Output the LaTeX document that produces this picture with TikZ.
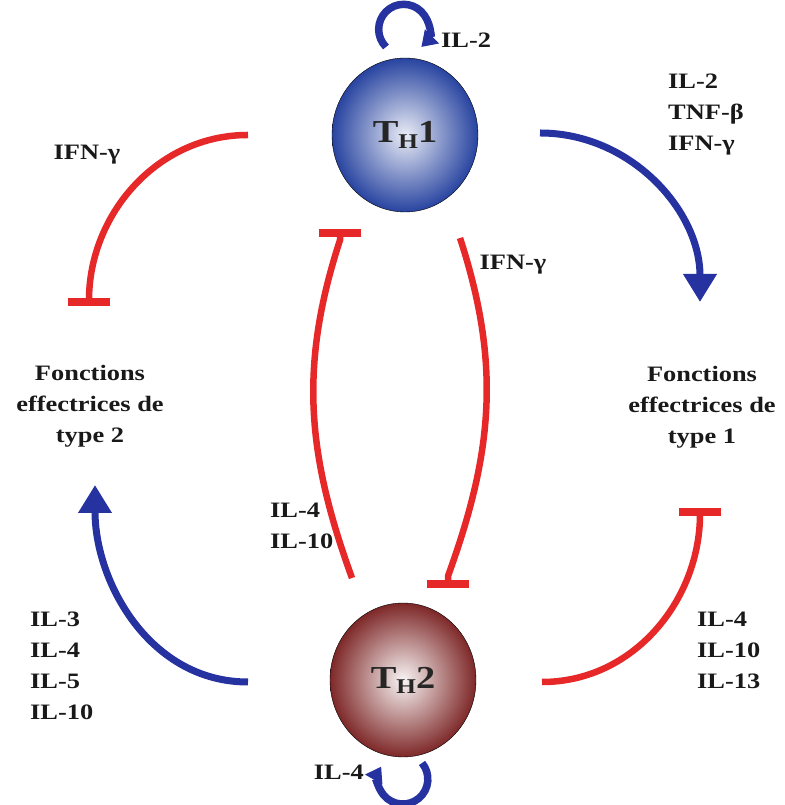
\documentclass[tikz,border=0pt]{standalone}
\usepackage{fontspec}
\setmainfont{Liberation Serif}[FakeStretch=1.2]
\usepackage{tikz}
\usetikzlibrary{
  arrows.meta,
  shapes.geometric
}
\definecolor{thBlue}{RGB}{38,50,160}
\definecolor{thRed}{RGB}{230,40,40}
\definecolor{cellBlue}{RGB}{40,68,160}
\definecolor{cellRed}{RGB}{126,40,40}
\tikzset{
  cell/.style={
    ellipse,
    draw=black,
    thin,
    minimum width=146pt,
    minimum height=154pt,
    inner sep=0pt,
    font=\fontsize{32}{36}\selectfont\bfseries,
    text=black!85
  },
  cellone/.style={cell, shade, inner color=cellBlue!10!white, outer color=cellBlue},
  celltwo/.style={cell, shade, inner color=cellRed!5!white, outer color=cellRed},
  actarrow/.style={
    -{Triangle[length=28pt, width=32pt]},
    line width=7pt,
    thBlue
  },
  looparrow/.style={
    -{Triangle[length=15pt, width=19pt]},
    line width=7.5pt,
    thBlue
  },
  inhibarrow/.style={
    -{Bar[width=42pt, line width=8pt]},
    line width=6.5pt,
    thRed
  },
  cytolabel/.style={font=\fontsize{22}{31}\selectfont\bfseries, align=left, inner sep=0pt, text=black!90},
  fonctlabel/.style={cytolabel, align=center}
}
\newcommand{\thsub}[1]{T\raisebox{-0.35ex}{\fontsize{21}{21}\selectfont H}#1}

\begin{document}
\begin{tikzpicture}[x=1pt, y=1pt]
  \useasboundingbox (0,0) rectangle (784,805);
  % cellules
  \node[cellone] (th1) at (405,670) {\thsub{1}};
  \node[celltwo] (th2) at (403,125) {\thsub{2}};
  % fonctions effectrices
  \node[fonctlabel] (ftwo) at (90,399) {Fonctions\\effectrices de\\type 2};
  \node[fonctlabel] (fone) at (702,398) {Fonctions\\effectrices de\\type 1};
  % cytokines
  \node[cytolabel, anchor=west] (ilA) at (441,765) {IL-2};
  \node[cytolabel, anchor=east] (ilB) at (364,33) {IL-4};
  \node[cytolabel] (ifnA) at (87,650) {IFN-γ};
  \node[cytolabel, anchor=west] (oneout) at (668,690) {IL-2\\TNF-β\\IFN-γ};
  \node[cytolabel] (ifnB) at (513,540) {IFN-γ};
  \node[cytolabel, anchor=west] (twoin) at (270,279) {IL-4\\IL-10};
  \node[cytolabel, anchor=west] (twoout) at (30,139) {IL-3\\IL-4\\IL-5\\IL-10};
  \node[cytolabel, anchor=west] (twoinh) at (697,155) {IL-4\\IL-10\\IL-13};
  % extremites des fleches
  \coordinate (loopone) at (386,758);
  \coordinate (looptwo) at (422,42);
  \coordinate (actA) at (540,672);
  \coordinate (actAend) at (700,503);
  \coordinate (actB) at (248,123);
  \coordinate (actBend) at (95,320);
  \coordinate (inhA) at (248,670);
  \coordinate (inhAend) at (89,499);
  \coordinate (inhB) at (542,123);
  \coordinate (inhBend) at (700,297);
  \coordinate (midL) at (352,227);
  \coordinate (midLk) at (340,565);
  \coordinate (midLend) at (340,576);
  \coordinate (midR) at (460,567);
  \coordinate (midRk) at (448,229);
  \coordinate (midRend) at (448,217);
  % autoactivation
  \draw[looparrow] (loopone) arc[start angle=225, end angle=-45, radius=25];
  \draw[looparrow] (looptwo) arc[start angle=40, end angle=-210, radius=25];
  % activation
  \draw[actarrow] (actA) to[out=0, in=90] (actAend);
  \draw[actarrow] (actB) to[out=180, in=-90] (actBend);
  % inhibition
  \draw[inhibarrow] (inhA) to[out=180, in=90] (inhAend);
  \draw[inhibarrow] (inhB) to[out=0, in=-90] (inhBend);
  \draw[inhibarrow] (midL) to[out=110, in=-108] (midLk) -- (midLend);
  \draw[inhibarrow] (midR) to[out=-72, in=70] (midRk) -- (midRend);
\end{tikzpicture}
\end{document}
